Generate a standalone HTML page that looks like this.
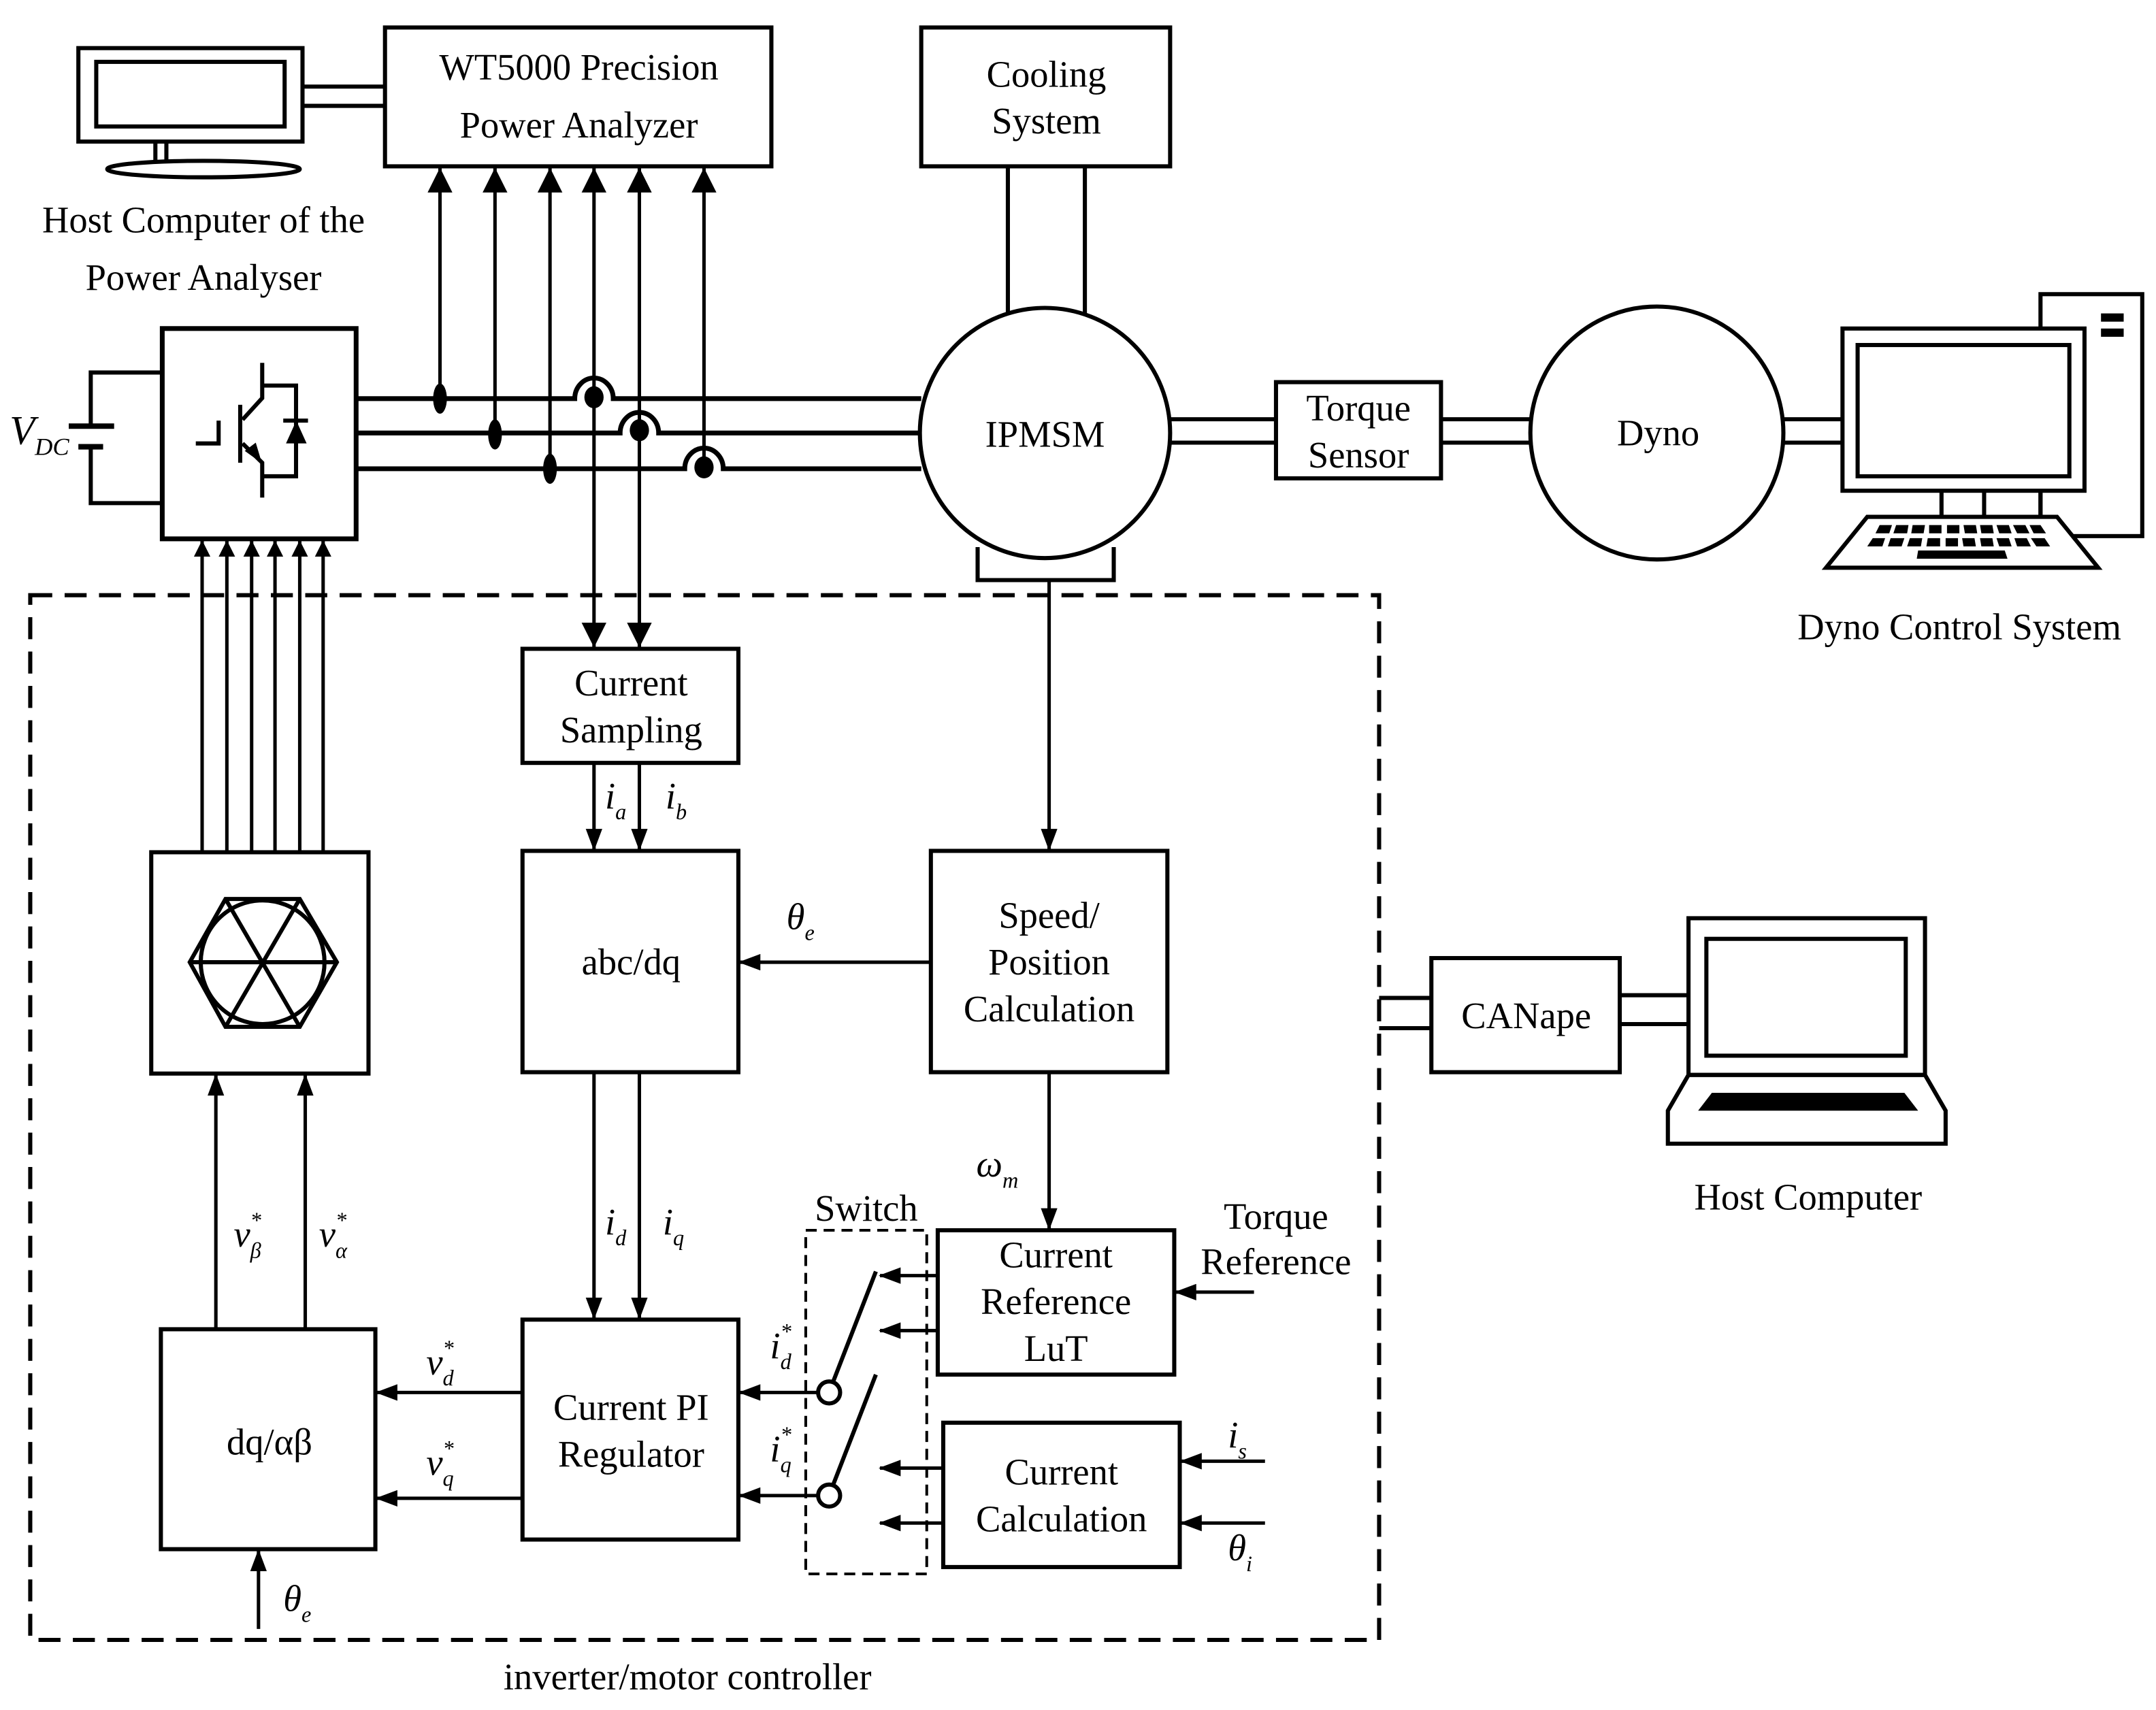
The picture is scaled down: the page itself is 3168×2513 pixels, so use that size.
<!DOCTYPE html>
<html><head><meta charset="utf-8"><style>html,body{margin:0;padding:0;background:#fff}svg{display:block}</style></head>
<body>
<svg width="3168" height="2513" viewBox="0 0 1568 1244" preserveAspectRatio="none" xmlns="http://www.w3.org/2000/svg" font-family="Liberation Serif, serif" font-size="27">
<defs>
<marker id="a" markerWidth="12" markerHeight="12" refX="12" refY="6" orient="auto" markerUnits="userSpaceOnUse"><path d="M0,0 L12,6 L0,12 Z" fill="#000"/></marker>
<marker id="b" markerWidth="16" markerHeight="12" refX="15" refY="6" orient="auto" markerUnits="userSpaceOnUse"><path d="M0,0 L16,6 L0,12 Z" fill="#000"/></marker>
<marker id="c" markerWidth="18" markerHeight="18" refX="18" refY="9" orient="auto" markerUnits="userSpaceOnUse"><path d="M0,0 L18,9 L0,18 Z" fill="#000"/></marker>
</defs>
<g fill="none" stroke="#000" stroke-width="3">
<rect x="57" y="35" width="163" height="68"/><rect x="70" y="45" width="137" height="47"/>
<line x1="113" y1="103" x2="113" y2="118"/><line x1="121" y1="103" x2="121" y2="118"/>
<ellipse cx="148" cy="123" rx="70" ry="6"/>
<line x1="220" y1="63" x2="280" y2="63"/><line x1="220" y1="77" x2="280" y2="77"/>
<rect x="280" y="20" width="281" height="101"/>
<rect x="670" y="20" width="181" height="101"/>
<line x1="733" y1="121" x2="733" y2="228"/><line x1="789" y1="121" x2="789" y2="228"/>
<circle cx="760" cy="315" r="91"/>
<path d="M711,398 V422 H810 V398"/>
<rect x="118" y="239" width="141" height="153" stroke-width="3.5"/>
<path d="M118,271 H66 V310 M66,325 V366 H118"/>
<line x1="50" y1="310" x2="83" y2="310" stroke-width="4"/><line x1="57" y1="325" x2="75" y2="325" stroke-width="4"/>
<path d="M190.7,264 V289.6 L176.4,305.3"/>
<line x1="174.7" y1="294.5" x2="174.7" y2="336.6"/>
<path d="M176.4,322.6 L190.7,336.6 V362"/>
<path d="M142.4,322.6 H159 V306"/>
<path d="M190.7,280.5 H215.3 V346.5 H190.7"/>
<line x1="206" y1="306" x2="224" y2="306"/>
<g stroke-width="3.5">
<path d="M259,290 H418 A14,15 0 0 1 446,290 H670"/>
<path d="M259,315 H451 A14,15 0 0 1 479,315 H670"/>
<path d="M259,341 H498 A14,15 0 0 1 526,341 H670"/>
</g>
<g stroke-width="2.5">
<line x1="320" y1="290" x2="320" y2="122" marker-end="url(#c)"/>
<line x1="360" y1="315" x2="360" y2="122" marker-end="url(#c)"/>
<line x1="400" y1="341" x2="400" y2="122" marker-end="url(#c)"/>
<line x1="432" y1="290" x2="432" y2="122" marker-end="url(#c)"/>
<line x1="465" y1="315" x2="465" y2="122" marker-end="url(#c)"/>
<line x1="512" y1="341" x2="512" y2="122" marker-end="url(#c)"/>
<line x1="432" y1="290" x2="432" y2="471" marker-end="url(#c)"/>
<line x1="465" y1="315" x2="465" y2="471" marker-end="url(#c)"/>
</g>
</g>
<g fill="#000">
<ellipse cx="320" cy="290" rx="5" ry="11"/><ellipse cx="360" cy="316" rx="5" ry="11"/><ellipse cx="400" cy="341" rx="5" ry="11"/>
<ellipse cx="432" cy="289" rx="7" ry="8"/><ellipse cx="465" cy="313" rx="7" ry="8"/><ellipse cx="512" cy="340" rx="7" ry="8"/>
<path d="M215.5,306 L208,322.6 L223,322.6 Z"/>
<path d="M190.5,337 L178,328 L186,322 Z"/>
</g>
<g fill="none" stroke="#000" stroke-width="3">
<rect x="22" y="433" width="981" height="760" stroke-dasharray="16,9"/>
<rect x="380" y="472" width="157" height="83"/>
<rect x="380" y="619" width="157" height="161"/>
<rect x="677" y="619" width="172" height="161"/>
<rect x="110" y="620" width="158" height="161"/>
<polygon points="164,654 218,654 245,700 218,747 164,747 138,700"/>
<circle cx="191" cy="700" r="45"/>
<line x1="164" y1="654" x2="218" y2="747"/><line x1="218" y1="654" x2="164" y2="747"/><line x1="138" y1="700" x2="245" y2="700"/>
<rect x="117" y="967" width="156" height="160"/>
<rect x="380" y="960" width="157" height="160"/>
<rect x="682" y="895" width="172" height="105"/>
<rect x="686" y="1035" width="172" height="105"/>
<rect x="586" y="895" width="88" height="250" stroke-dasharray="8,5" stroke-width="2"/>
<circle cx="603" cy="1013" r="8"/><circle cx="603" cy="1088" r="8"/>
<line x1="606" y1="1005" x2="637" y2="925"/><line x1="606" y1="1080" x2="637" y2="1000"/>
<rect x="928" y="278" width="120" height="70"/>
<line x1="851" y1="305" x2="928" y2="305"/><line x1="851" y1="322" x2="928" y2="322"/>
<line x1="1048" y1="305" x2="1113" y2="305"/><line x1="1048" y1="322" x2="1113" y2="322"/>
<circle cx="1205" cy="315" r="92"/>
<line x1="1297" y1="305" x2="1340" y2="305"/><line x1="1297" y1="322" x2="1340" y2="322"/>
<!-- desktop -->
<rect x="1484" y="214" width="74" height="176"/>
<rect x="1340" y="239" width="176" height="118" fill="#fff"/><rect x="1351" y="251" width="154" height="95.5"/>
<line x1="1412" y1="357" x2="1412" y2="376"/><line x1="1443" y1="357" x2="1443" y2="376"/><line x1="1484" y1="357" x2="1484" y2="376"/>
<polygon points="1358,376 1496,376 1526,413 1328,413" fill="#fff"/>
<rect x="1041" y="697" width="137" height="83"/>
<line x1="1003" y1="726" x2="1041" y2="726"/><line x1="1003" y1="748" x2="1041" y2="748"/>
<line x1="1178" y1="724" x2="1228" y2="724"/><line x1="1178" y1="745" x2="1228" y2="745"/>
<rect x="1228" y="668" width="172" height="114"/><rect x="1241" y="683" width="145" height="85"/>
<polygon points="1228,782 1400,782 1415,808 1415,832 1213,832 1213,808"/>
<g stroke-width="2.5">
<line x1="147" y1="620" x2="147" y2="393" marker-end="url(#a)"/>
<line x1="165" y1="620" x2="165" y2="393" marker-end="url(#a)"/>
<line x1="183" y1="620" x2="183" y2="393" marker-end="url(#a)"/>
<line x1="200" y1="620" x2="200" y2="393" marker-end="url(#a)"/>
<line x1="218" y1="620" x2="218" y2="393" marker-end="url(#a)"/>
<line x1="235" y1="620" x2="235" y2="393" marker-end="url(#a)"/>
</g>
<g stroke-width="2.5">
<line x1="763" y1="422" x2="763" y2="618" marker-end="url(#b)"/>
<line x1="432" y1="555" x2="432" y2="618" marker-end="url(#b)"/>
<line x1="465" y1="555" x2="465" y2="618" marker-end="url(#b)"/>
<line x1="677" y1="700" x2="538" y2="700" marker-end="url(#b)"/>
<line x1="432" y1="780" x2="432" y2="959" marker-end="url(#b)"/>
<line x1="465" y1="780" x2="465" y2="959" marker-end="url(#b)"/>
<line x1="157" y1="967" x2="157" y2="782" marker-end="url(#b)"/>
<line x1="222" y1="967" x2="222" y2="782" marker-end="url(#b)"/>
<line x1="188" y1="1185" x2="188" y2="1128" marker-end="url(#b)"/>
<line x1="380" y1="1013" x2="274" y2="1013" marker-end="url(#b)"/>
<line x1="380" y1="1090" x2="274" y2="1090" marker-end="url(#b)"/>
<line x1="595" y1="1013" x2="538" y2="1013" marker-end="url(#b)"/>
<line x1="595" y1="1088" x2="538" y2="1088" marker-end="url(#b)"/>
<line x1="682" y1="928" x2="640" y2="928" marker-end="url(#b)"/>
<line x1="682" y1="968" x2="640" y2="968" marker-end="url(#b)"/>
<line x1="686" y1="1068" x2="640" y2="1068" marker-end="url(#b)"/>
<line x1="686" y1="1108" x2="640" y2="1108" marker-end="url(#b)"/>
<line x1="763" y1="780" x2="763" y2="894" marker-end="url(#b)"/>
<line x1="912" y1="940" x2="855" y2="940" marker-end="url(#b)"/>
<line x1="920" y1="1063" x2="859" y2="1063" marker-end="url(#b)"/>
<line x1="920" y1="1108" x2="859" y2="1108" marker-end="url(#b)"/>
</g>
</g>
<g fill="#000">
<rect x="1528" y="228" width="16.5" height="6"/><rect x="1528" y="239" width="16.5" height="6"/>
<path d="M1367,382 h9 l-2,6 h-10 z M1379,382 h9 l-1,6 h-10 z M1391,382 h9 l-1,6 h-9 z M1403,382 h9 v6 h-9 z M1416,382 h9 v6 h-9 z M1428,382 h9 l1,6 h-9 z M1440,382 h9 l1,6 h-9 z M1452,382 h9 l2,6 h-9 z M1464,382 h9 l3,6 h-9 z M1476,382 h8 l4,6 h-9 z"/>
<path d="M1362,391.5 h9 l-2,6 h-11 z M1375,391.5 h10 l-2,6 h-10 z M1389,391.5 h9 l-1,6 h-10 z M1402,391.5 h9 v6 h-10 z M1415,391.5 h9 v6 h-9 z M1427,391.5 h9 l1,6 h-9 z M1440,391.5 h9 l1,6 h-9 z M1452,391.5 h9 l2,6 h-9 z M1465,391.5 h9 l3,6 h-10 z M1477,391.5 h10 l4,6 h-10 z"/>
<path d="M1395,400.5 h63 l2,6 h-66 z"/>
<path d="M1245,795 H1385 L1395,808 H1235 Z"/>
</g>
<g text-anchor="middle" fill="#000">
<text x="421" y="58">WT5000 Precision</text><text x="421" y="100">Power Analyzer</text>
<text x="148" y="169">Host Computer of the</text><text x="148" y="211">Power Analyser</text>
<text x="761" y="63">Cooling</text><text x="761" y="97">System</text>
<text x="760" y="325">IPMSM</text>
<text x="988" y="306">Torque</text><text x="988" y="340">Sensor</text>
<text x="1206" y="324">Dyno</text>
<text x="1425" y="465">Dyno Control System</text>
<text x="459" y="506">Current</text><text x="459" y="540">Sampling</text>
<text x="459" y="709">abc/dq</text>
<text x="763" y="675">Speed/</text><text x="763" y="709">Position</text><text x="763" y="743">Calculation</text>
<text x="1110" y="748">CANape</text>
<text x="1315" y="880">Host Computer</text>
<text x="768" y="922">Current</text><text x="768" y="956">Reference</text><text x="768" y="990">LuT</text>
<text x="772" y="1080">Current</text><text x="772" y="1114">Calculation</text>
<text x="928" y="894">Torque</text><text x="928" y="927">Reference</text>
<text x="630" y="888">Switch</text>
<text x="459" y="1033">Current PI</text><text x="459" y="1067">Regulator</text>
<text x="196" y="1058">dq/αβ</text>
<text x="500" y="1229">inverter/motor controller</text>
</g>
<g fill="#000" font-style="italic">
<text x="7" y="323" font-size="30">V<tspan font-size="18" dy="8">DC</tspan></text>
<text x="440" y="588">i<tspan font-size="16" dy="8">a</tspan></text>
<text x="484" y="588">i<tspan font-size="16" dy="8">b</tspan></text>
<text x="572" y="676">θ<tspan font-size="16" dy="8">e</tspan></text>
<text x="440" y="898">i<tspan font-size="16" dy="8">d</tspan></text>
<text x="482" y="898">i<tspan font-size="16" dy="8">q</tspan></text>
<text x="170" y="907">v<tspan font-size="16" dy="-14">*</tspan><tspan font-size="16" dx="-8" dy="22">β</tspan></text>
<text x="232" y="907">v<tspan font-size="16" dy="-14">*</tspan><tspan font-size="16" dx="-8" dy="22">α</tspan></text>
<text x="310" y="1000">v<tspan font-size="16" dy="-14">*</tspan><tspan font-size="16" dx="-8" dy="22">d</tspan></text>
<text x="310" y="1073">v<tspan font-size="16" dy="-14">*</tspan><tspan font-size="16" dx="-8" dy="22">q</tspan></text>
<text x="560" y="988">i<tspan font-size="16" dy="-14">*</tspan><tspan font-size="16" dx="-8" dy="22">d</tspan></text>
<text x="560" y="1063">i<tspan font-size="16" dy="-14">*</tspan><tspan font-size="16" dx="-8" dy="22">q</tspan></text>
<text x="710" y="856">ω<tspan font-size="16" dy="8">m</tspan></text>
<text x="893" y="1053">i<tspan font-size="16" dy="8">s</tspan></text>
<text x="893" y="1135">θ<tspan font-size="16" dy="8">i</tspan></text>
<text x="206" y="1172">θ<tspan font-size="16" dy="8">e</tspan></text>
</g>
</svg>
</body></html>
